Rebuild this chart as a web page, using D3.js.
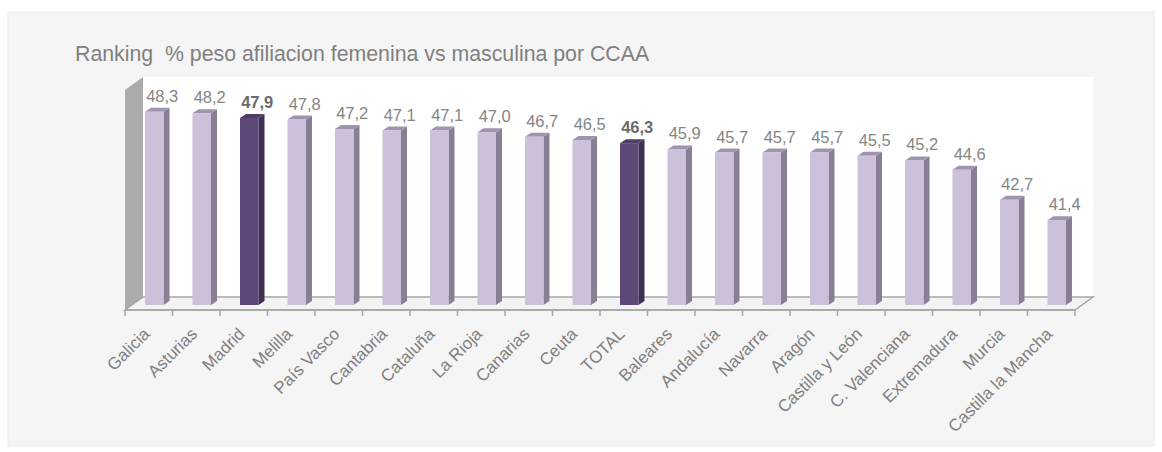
<!DOCTYPE html>
<html><head><meta charset="utf-8">
<script src="https://cdn.jsdelivr.net/npm/d3@7"></script>
<style>body{margin:0;background:#fff}svg{display:block}</style>
</head><body>
<script>
const categories = ["Galicia","Asturias","Madrid","Melilla","País Vasco","Cantabria","Cataluña","La Rioja","Canarias","Ceuta","TOTAL","Baleares","Andalucía","Navarra","Aragón","Castilla y León","C. Valenciana","Extremadura","Murcia","Castilla la Mancha"];
const values = [48.3,48.2,47.9,47.8,47.2,47.1,47.1,47.0,46.7,46.5,46.3,45.9,45.7,45.7,45.7,45.5,45.2,44.6,42.7,41.4];
const highlighted = ["Madrid","TOTAL"];
const title = "Ranking  % peso afiliacion femenina vs masculina por CCAA";
const yDomain = [36, 50];

const W = 1162, H = 452;
const svg = d3.select("body").append("svg").attr("width", W).attr("height", H)
  .style("font-family", "'Liberation Sans', Arial, sans-serif");

// panel background
svg.append("rect").attr("x", 8).attr("y", 12).attr("width", 1146).attr("height", 434)
  .attr("fill", "#f5f5f5").attr("stroke", "#ebebeb");

const x0 = 125, x1 = 1075, floorY = 310;
const DX = 18, DY = -13;
const x = d3.scaleBand().domain(categories).range([x0, x1]);
const y = d3.scaleLinear().domain(yDomain).range([floorY + DY, 77]); // back plane

// back wall
svg.append("rect").attr("x", x0 + DX).attr("y", y(yDomain[1]))
  .attr("width", x1 - x0).attr("height", y(yDomain[0]) - y(yDomain[1])).attr("fill", "#ffffff");
// left side wall
svg.append("path").attr("d", `M${x0},${floorY} L${x0},${y(yDomain[1]) - DY} L${x0 + DX},${y(yDomain[1])} L${x0 + DX},${floorY + DY} Z`)
  .attr("fill", "#ababab");
// floor
svg.append("path").attr("d", `M${x0},${floorY} L${x1},${floorY} L${x1 + DX},${floorY + DY} L${x0 + DX},${floorY + DY} Z`)
  .attr("fill", "#f3f3f3").attr("stroke", "#a6a6a6").attr("stroke-width", 1.5);

// axis (ticks at band edges)
const edges = categories.map(c => x(c)).concat([x1]);
const axisG = svg.append("g");
axisG.append("line").attr("x1", x0).attr("x2", x1).attr("y1", floorY).attr("y2", floorY)
  .attr("stroke", "#a6a6a6").attr("stroke-width", 1.5);
axisG.selectAll("line.tick").data(edges).join("line").attr("class", "tick")
  .attr("x1", d => d).attr("x2", d => d).attr("y1", floorY).attr("y2", floorY + 6)
  .attr("stroke", "#a6a6a6").attr("stroke-width", 1.5);

// bars
const bw = 18.5, bdx = 6, bdy = -4, bOff = 20, bFloor = floorY - 5;
const yb = v => y(v) + (bFloor - (floorY + DY));
const data = categories.map((c, i) => ({c, v: values[i], hi: highlighted.includes(c)}));
const bars = svg.append("g").selectAll("g").data(data).join("g");
bars.each(function(d) {
  const g = d3.select(this);
  const bx = x(d.c) + bOff, top = yb(d.v), bot = bFloor;
  const front = d.hi ? "#5e4878" : "#ccc0da";
  const side = d.hi ? "#3e2f53" : "#897f95";
  const topc = d.hi ? "#4f3d67" : "#a093ae";
  g.append("path").attr("d", `M${bx + bw},${top} L${bx + bw + bdx},${top + bdy} L${bx + bw + bdx},${bot + bdy} L${bx + bw},${bot} Z`).attr("fill", side);
  g.append("path").attr("d", `M${bx},${top} L${bx + bdx},${top + bdy} L${bx + bw + bdx},${top + bdy} L${bx + bw},${top} Z`).attr("fill", topc);
  g.append("rect").attr("x", bx).attr("y", top).attr("width", bw).attr("height", bot - top).attr("fill", front);
  g.append("text").attr("x", bx + bw / 2 + 8).attr("y", top - 10)
    .attr("text-anchor", "middle").attr("font-size", 16.5)
    .attr("font-weight", d.hi ? "bold" : "normal")
    .attr("fill", d.hi ? "#6b6b6b" : "#858585")
    .text(d.v.toFixed(1).replace(".", ","));
});

// category labels
svg.append("g").selectAll("text").data(categories).join("text")
  .attr("transform", d => `translate(${x(d) + x.bandwidth() / 2 + 2},${335}) rotate(-45)`)
  .attr("text-anchor", "end").attr("font-size", 17).attr("fill", "#7f7f7f")
  .text(d => d);

// title
svg.append("text").attr("x", 75).attr("y", 61).attr("font-size", 21.3).attr("fill", "#808080")
  .style("white-space", "pre").text(title);
</script>
</body></html>
